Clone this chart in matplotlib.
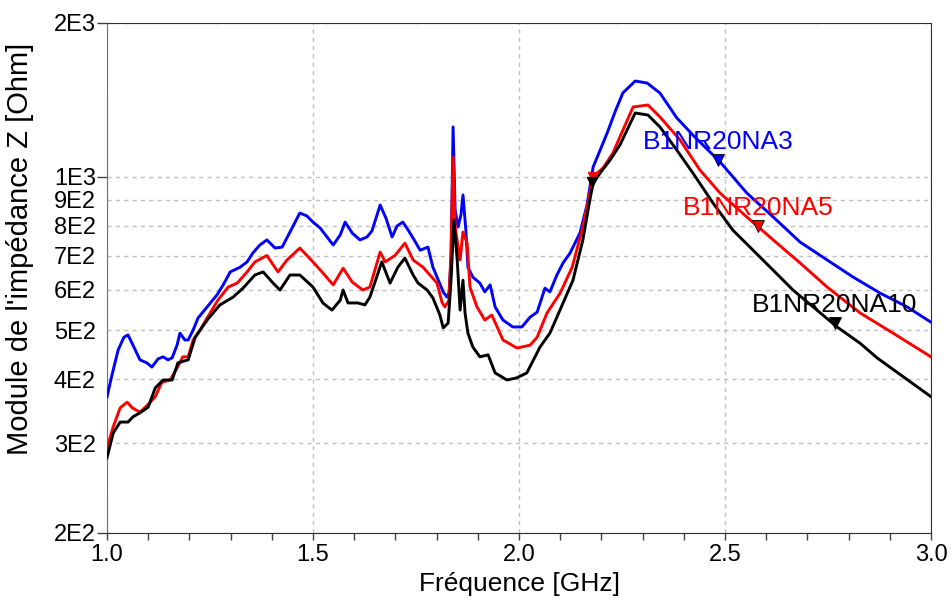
import matplotlib
matplotlib.use('Agg')
import matplotlib.pyplot as plt
from matplotlib.ticker import FixedLocator, FixedFormatter, NullFormatter

plt.rcParams['font.family'] = ['Liberation Sans', 'DejaVu Sans']

# --- data (frequency in GHz, |Z| in Ohm) ---
f_na3 = [1.000, 1.012, 1.027, 1.041, 1.051, 1.063, 1.080, 1.097, 1.109, 1.124,
         1.136, 1.148, 1.158, 1.170, 1.177, 1.189, 1.197, 1.209, 1.221, 1.243,
         1.267, 1.282, 1.299, 1.323, 1.340, 1.354, 1.371, 1.388, 1.408, 1.425,
         1.444, 1.468, 1.485, 1.500, 1.517, 1.549, 1.566, 1.578, 1.595, 1.614,
         1.631, 1.643, 1.663, 1.677, 1.692, 1.704, 1.718, 1.731, 1.743, 1.760,
         1.779, 1.791, 1.816, 1.825, 1.830, 1.835, 1.840, 1.845, 1.852, 1.859,
         1.864, 1.871, 1.876, 1.888, 1.905, 1.917, 1.930, 1.942, 1.961, 1.985,
         2.007, 2.027, 2.044, 2.063, 2.075, 2.092, 2.107, 2.124, 2.148, 2.165,
         2.180, 2.197, 2.214, 2.233, 2.252, 2.282, 2.311, 2.342, 2.383, 2.422,
         2.488, 2.553, 2.617, 2.682, 2.748, 2.811, 2.876, 2.942, 3.000]
z_na3 = [370, 408, 457, 484, 489, 467, 437, 431, 423, 439,
         443, 437, 441, 467, 493, 478, 478, 500, 528, 555,
         586, 613, 650, 664, 680, 708, 734, 751, 724, 727,
         778, 848, 837, 814, 793, 734, 768, 814, 775, 751,
         761, 782, 879, 829, 761, 800, 814, 785, 757, 717,
         727, 664, 594, 580, 591, 686, 1251, 860, 796, 840,
         920, 785, 664, 635, 618, 594, 613, 555, 523, 507,
         507, 530, 542, 604, 594, 641, 677, 708, 775, 879,
         1044, 1127, 1217, 1338, 1458, 1539, 1525, 1458, 1303, 1206,
         1068, 928, 833, 744, 686, 635, 591, 555, 518]

f_na5 = [1.000, 1.015, 1.032, 1.049, 1.061, 1.080, 1.104, 1.117, 1.133, 1.153,
         1.170, 1.184, 1.197, 1.209, 1.226, 1.243, 1.269, 1.294, 1.316, 1.340,
         1.359, 1.388, 1.415, 1.437, 1.468, 1.500, 1.524, 1.549, 1.573, 1.595,
         1.621, 1.638, 1.663, 1.675, 1.699, 1.723, 1.743, 1.767, 1.801, 1.813,
         1.820, 1.830, 1.835, 1.840, 1.845, 1.857, 1.864, 1.874, 1.881, 1.898,
         1.917, 1.934, 1.947, 1.961, 1.995, 2.027, 2.044, 2.068, 2.100, 2.129,
         2.155, 2.180, 2.204, 2.228, 2.245, 2.277, 2.313, 2.342, 2.391, 2.439,
         2.488, 2.553, 2.617, 2.682, 2.748, 2.828, 2.908, 3.000]
z_na5 = [294, 323, 352, 361, 352, 345, 360, 370, 395, 399,
         421, 443, 443, 478, 500, 528, 572, 607, 618, 650,
         680, 700, 650, 686, 724, 680, 647, 613, 661, 621,
         599, 607, 711, 680, 700, 740, 686, 664, 618, 567,
         555, 572, 717, 1092, 796, 686, 778, 740, 607, 555,
         523, 535, 507, 478, 461, 467, 484, 540, 591, 664,
         796, 1000, 1039, 1112, 1196, 1369, 1381, 1309, 1179, 1030,
         928, 833, 751, 677, 607, 540, 493, 443]

f_na10 = [1.000, 1.015, 1.032, 1.051, 1.063, 1.080, 1.100, 1.117, 1.136, 1.158,
          1.172, 1.197, 1.214, 1.243, 1.274, 1.306, 1.330, 1.359, 1.379, 1.403,
          1.420, 1.444, 1.468, 1.500, 1.524, 1.546, 1.566, 1.573, 1.585, 1.609,
          1.626, 1.638, 1.667, 1.687, 1.706, 1.723, 1.743, 1.755, 1.777, 1.791,
          1.808, 1.816, 1.828, 1.835, 1.842, 1.850, 1.857, 1.864, 1.869, 1.876,
          1.888, 1.905, 1.925, 1.942, 1.971, 1.995, 2.019, 2.051, 2.075, 2.107,
          2.131, 2.155, 2.172, 2.180, 2.197, 2.221, 2.245, 2.282, 2.313, 2.342,
          2.383, 2.422, 2.471, 2.519, 2.568, 2.617, 2.665, 2.714, 2.772, 2.828,
          2.869, 3.000]
z_na10 = [281, 314, 330, 330, 338, 344, 353, 385, 399, 399,
          431, 437, 484, 523, 560, 580, 604, 641, 650, 618,
          599, 641, 641, 607, 565, 547, 572, 599, 565, 565,
          560, 580, 680, 618, 664, 692, 641, 618, 599, 578,
          535, 505, 516, 626, 822, 686, 547, 626, 540, 493,
          463, 443, 447, 412, 399, 403, 412, 463, 493, 565,
          626, 751, 900, 971, 1016, 1077, 1153, 1332, 1320, 1251,
          1127, 1016, 887, 785, 717, 655, 599, 555, 507, 471,
          441, 370]

names = ['B1NR20NA3', 'B1NR20NA5', 'B1NR20NA10']
colors = ['#0000ff', '#ff0000', '#000000']
# labelled markers (frequency, |Z|)
mark_f = [2.483, 2.580, 2.767]
mark_z = [1077, 800, 516]
# extra unlabelled markers near 2.18 GHz (red, black)
extra_f = [2.180, 2.178]
extra_z = [1000, 975]

y_major = [200, 1000, 2000]
y_major_lbl = ['2E2', '1E3', '2E3']
y_minor = [300, 400, 500, 600, 700, 800, 900]
y_minor_lbl = ['3E2', '4E2', '5E2', '6E2', '7E2', '8E2', '9E2']
x_major = [1.0, 1.5, 2.0, 2.5, 3.0]
x_major_lbl = ['1.0', '1.5', '2.0', '2.5', '3.0']
x_minor = [1.1, 1.2, 1.3, 1.4, 1.6, 1.7, 1.8, 1.9, 2.1, 2.2, 2.3, 2.4,
           2.6, 2.7, 2.8, 2.9]

fig = plt.figure(figsize=(9.53, 6.08), dpi=100)
ax = fig.add_axes([0.1123, 0.1234, 0.8646, 0.8388])

series = [(f_na3, z_na3), (f_na5, z_na5), (f_na10, z_na10)]
for (f, z), c in zip(series, colors):
    ax.plot(f, z, color=c, lw=2.1, zorder=3)

for i in range(3):
    ax.plot(mark_f[i], mark_z[i], marker='v', ms=8, color=colors[i],
            mec='#000000', mew=0.6, zorder=4)
    ax.annotate(names[i], (mark_f[i], mark_z[i]), xytext=(0, 13),
                textcoords='offset points', ha='center', va='center',
                color=colors[i], fontsize=19, zorder=5)
for f, z, c in zip(extra_f, extra_z, colors[1:]):
    ax.plot(f, z, marker='v', ms=7, color=c, zorder=4)

ax.set_yscale('log')
ax.set_xlim(1.0, 3.0)
ax.set_ylim(200, 2000)

ax.yaxis.set_major_locator(FixedLocator(y_major))
ax.yaxis.set_major_formatter(FixedFormatter(y_major_lbl))
ax.yaxis.set_minor_locator(FixedLocator(y_minor))
ax.yaxis.set_minor_formatter(FixedFormatter(y_minor_lbl))
ax.xaxis.set_major_locator(FixedLocator(x_major))
ax.xaxis.set_major_formatter(FixedFormatter(x_major_lbl))
ax.xaxis.set_minor_locator(FixedLocator(x_minor))
ax.xaxis.set_minor_formatter(NullFormatter())

ax.tick_params(axis='y', which='major', direction='out', length=7, width=1,
               pad=1, labelsize=17, color='#404040')
ax.tick_params(axis='y', which='minor', length=0, pad=8, labelsize=17)
ax.tick_params(axis='x', which='both', direction='out', length=5, width=1,
               pad=3, labelsize=17, color='#404040')

# dashed grid: every labelled y value, x only at the major ticks
ax.yaxis.grid(True, which='both', linestyle=(0, (3, 3)), color='#c0c0c0', lw=1)
ax.xaxis.grid(True, which='major', linestyle=(0, (3, 3)), color='#c0c0c0', lw=1)

for s in ['top', 'right', 'bottom']:
    ax.spines[s].set_color('#303030')
ax.spines['left'].set_color('#707070')

ax.set_xlabel('Fréquence [GHz]', fontsize=19, labelpad=4)
ax.set_ylabel("Module de l'impédance Z [Ohm]", fontsize=21)
ax.yaxis.set_label_coords(-0.089, 0.557)

fig.savefig('out.png', dpi=100)
